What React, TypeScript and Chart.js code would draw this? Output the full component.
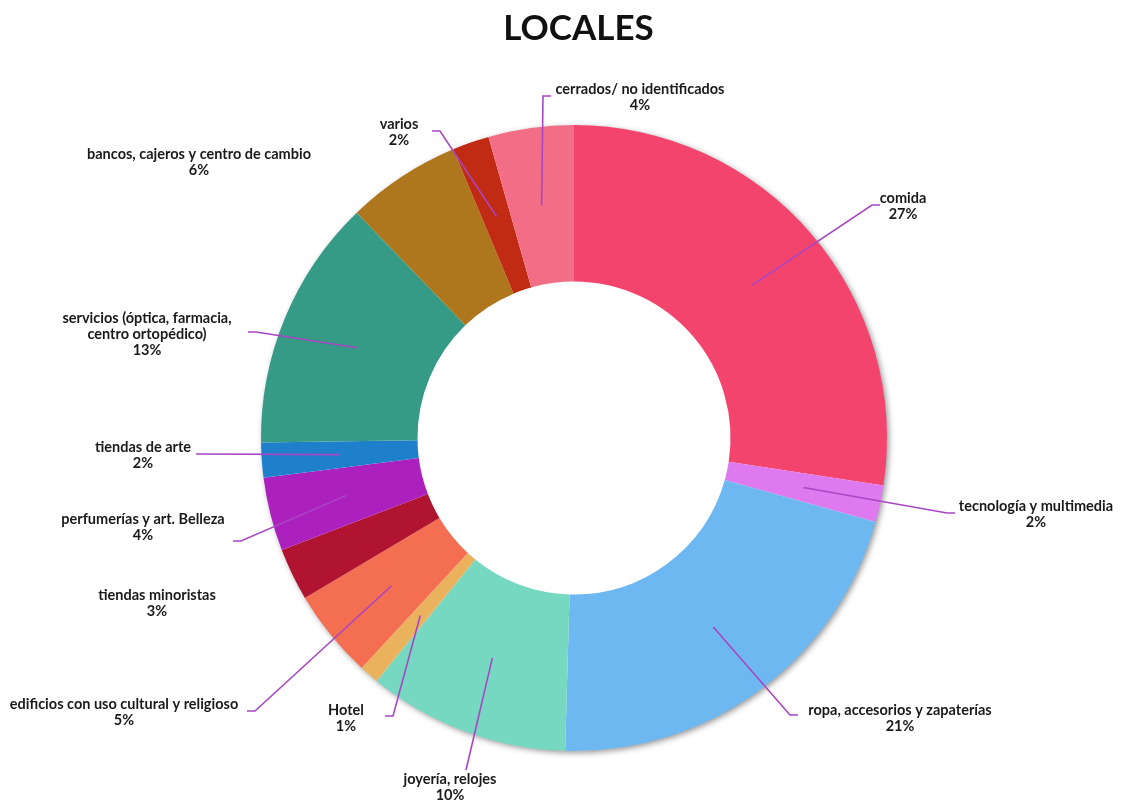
import React, { useEffect, useRef } from "react";
import { Chart, registerables } from "chart.js";

Chart.register(...registerables);

const TITLE = "LOCALES";

const categories: string[][] = [
  ["comida"],
  ["tecnología y multimedia"],
  ["ropa, accesorios y zapaterías"],
  ["joyería, relojes"],
  ["Hotel"],
  ["edificios con uso cultural y religioso"],
  ["tiendas minoristas"],
  ["perfumerías y art. Belleza"],
  ["tiendas de arte"],
  ["servicios (óptica, farmacia,", "centro ortopédico)"],
  ["bancos, cajeros y centro de cambio"],
  ["varios"],
  ["cerrados/ no identificados"],
];

const values: number[] = [27.4, 1.9, 21.1, 10.4, 1.0, 4.6, 2.7, 3.8, 1.8, 13.0, 5.9, 1.9, 4.4];

const colors: string[] = [
  "#F2446C",
  "#DE79EF",
  "#6EB8F1",
  "#76D8C1",
  "#EBB25E",
  "#F46E52",
  "#B01431",
  "#AC20BD",
  "#1E7FCB",
  "#369B86",
  "#AE771D",
  "#C22B13",
  "#F26E87",
];

// label layout relative to the doughnut centre: label centre (lx, ly of first line),
// leader elbow (ex, ey), tail direction (+1 right, -1 left, 0 none), leader on/off
const labelLayout = [
  { lx: 329, ly: -240, ex: 298, ey: -233, tail: 1, leader: true },
  { lx: 462, ly: 68, ex: 373, ey: 75, tail: 1, leader: true },
  { lx: 326, ly: 272, ex: 216, ey: 277, tail: 1, leader: true },
  { lx: -124, ly: 341, ex: -108, ey: 332, tail: 0, leader: true },
  { lx: -228, ly: 272, ex: -181, ey: 278, tail: -1, leader: true },
  { lx: -450, ly: 266, ex: -319, ey: 273, tail: -1, leader: true },
  { lx: -417, ly: 157, ex: 0, ey: 0, tail: 0, leader: false },
  { lx: -431, ly: 81, ex: -333, ey: 103, tail: -1, leader: true },
  { lx: -431, ly: 9, ex: -378, ey: 16, tail: 0, leader: true },
  { lx: -427, ly: -120, ex: -318, ey: -106, tail: -1, leader: true },
  { lx: -375, ly: -284, ex: 0, ey: 0, tail: 0, leader: false },
  { lx: -175, ly: -314, ex: -134, ey: -307, tail: -1, leader: true },
  { lx: 66, ly: -349, ex: -31, ey: -342, tail: 1, leader: true },
];

const FONT = "Lato, 'DejaVu Sans', sans-serif";

const labelsPlugin = {
  id: "outerLabels",
  beforeDatasetsDraw(chart: any) {
    const meta = chart.getDatasetMeta(0);
    const a0 = meta.data[0];
    if (!a0) return;
    const ctx = chart.ctx;
    ctx.save();
    ctx.shadowColor = "rgba(0,0,0,0.45)";
    ctx.shadowBlur = 6;
    ctx.shadowOffsetX = 2;
    ctx.shadowOffsetY = 2;
    ctx.fillStyle = "#ffffff";
    ctx.beginPath();
    ctx.arc(a0.x, a0.y, a0.outerRadius - 0.5, 0, Math.PI * 2);
    ctx.fill();
    ctx.restore();
  },
  afterDatasetsDraw(chart: any) {
    const ctx = chart.ctx;
    const meta = chart.getDatasetMeta(0);
    const total = values.reduce((s, v) => s + v, 0);
    ctx.save();
    // title
    ctx.fillStyle = "#111111";
    ctx.font = `bold 35px ${FONT}`;
    ctx.textAlign = "center";
    ctx.textBaseline = "middle";
    ctx.fillText(TITLE, chart.width / 2 + 15, 29);

    meta.data.forEach((arc: any, i: number) => {
      const L = labelLayout[i];
      const cx = arc.x;
      const cy = arc.y;
      if (L.leader) {
        const mid = (arc.startAngle + arc.endAngle) / 2;
        const r = (arc.innerRadius + arc.outerRadius) / 2;
        const sx = cx + Math.cos(mid) * r;
        const sy = cy + Math.sin(mid) * r;
        const ex = cx + L.ex;
        const ey = cy + L.ey;
        ctx.strokeStyle = "#A846C4";
        ctx.lineWidth = 1.6;
        ctx.beginPath();
        ctx.moveTo(sx, sy);
        ctx.lineTo(ex, ey);
        if (L.tail !== 0) ctx.lineTo(ex + L.tail * 8, ey);
        ctx.stroke();
      }
      const lines = [...categories[i], Math.round((values[i] / total) * 100) + "%"];
      ctx.fillStyle = "#1a1a1a";
      ctx.font = `bold 14.5px ${FONT}`;
      ctx.textAlign = "center";
      ctx.textBaseline = "middle";
      lines.forEach((t, k) => {
        ctx.fillText(t, cx + L.lx, cy + L.ly + k * 16);
      });
    });
    ctx.restore();
  },
};

export default function App() {
  const ref = useRef<HTMLCanvasElement | null>(null);
  useEffect(() => {
    document.body.style.margin = "0";
    const canvas = ref.current;
    if (!canvas) return;
    const chart = new Chart(canvas, {
      type: "doughnut",
      data: {
        labels: categories.map((c) => c.join(" ")),
        datasets: [
          {
            data: values,
            backgroundColor: colors,
            borderWidth: 0,
          },
        ],
      },
      options: {
        responsive: false,
        animation: false,
        cutout: "50%",
        rotation: 0,
        layout: { padding: { top: 125, bottom: 49, left: 261, right: 240 } },
        plugins: {
          legend: { display: false },
          title: { display: false },
          tooltip: { enabled: false },
        },
      },
      plugins: [labelsPlugin],
    });
    return () => chart.destroy();
  }, []);
  return (
    <div style={{ width: 1127, height: 800, background: "#ffffff" }}>
      <canvas ref={ref} width={1127} height={800} />
    </div>
  );
}
